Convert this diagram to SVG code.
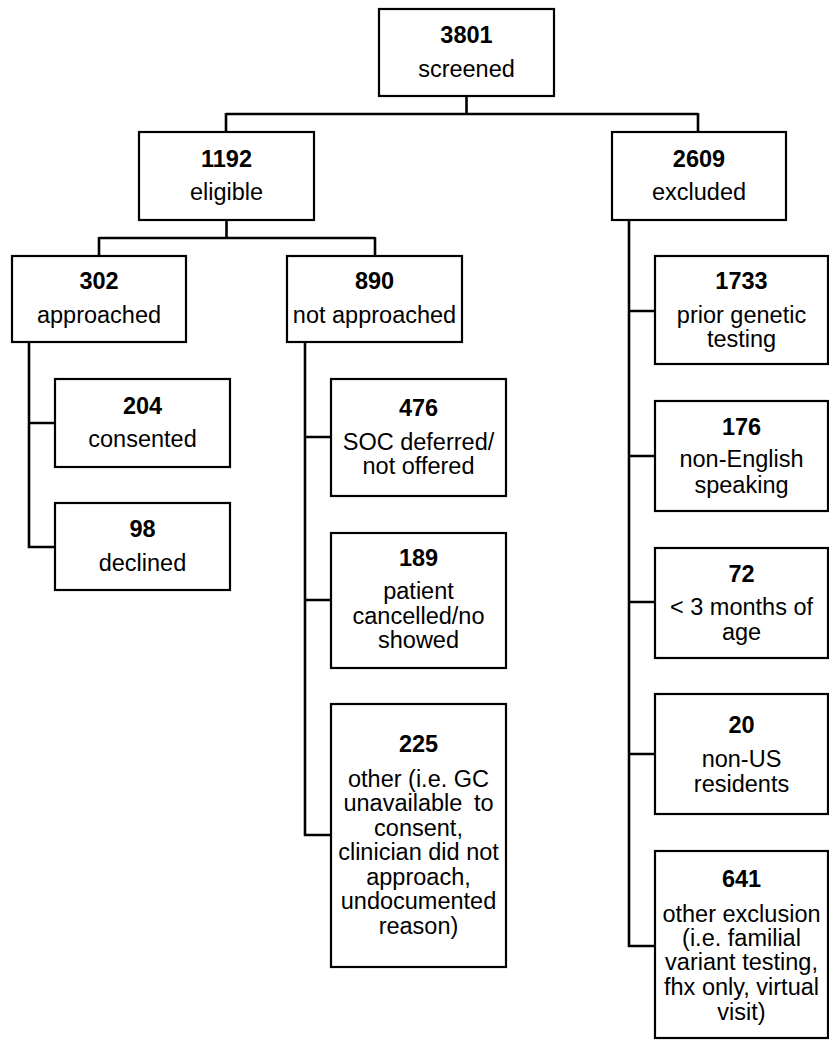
<svg xmlns="http://www.w3.org/2000/svg" width="829" height="1040" viewBox="0 0 829 1040">
<style>
.b{fill:#fff;stroke:#000;stroke-width:2.2}
#connectors path{fill:none;stroke:#000;stroke-width:2.6}
text{font-family:"Liberation Sans",Arial,sans-serif;font-size:23.5px;fill:#000;text-anchor:middle}
.n{font-weight:bold}
</style>
<rect width="829" height="1040" fill="#fff"/>
<g id="connectors">
<path d="M466.5 96V114M226 114H698M226 113V132M698 113V132"/>
<path d="M226.5 220V238M99 238H375M99 237V256M375 237V256"/>
<path d="M29 342V547H55M29 423H55"/>
<path d="M305 342V835H331M305 437H331M305 600H331"/>
<path d="M629 220V946H655M629 311H655M629 456H655M629 602H655M629 754H655"/>
</g>
<g id="n3801"><rect class="b" x="379" y="9" width="175" height="87"/><text x="466.5" y="43" class="n">3801</text><text x="466.5" y="77">screened</text></g>
<g id="n1192"><rect class="b" x="139" y="132" width="175" height="88"/><text x="226.5" y="167" class="n">1192</text><text x="226.5" y="200">eligible</text></g>
<g id="n2609"><rect class="b" x="612" y="132" width="174" height="88"/><text x="699" y="167" class="n">2609</text><text x="699" y="200">excluded</text></g>
<g id="n302"><rect class="b" x="12" y="256" width="174" height="86"/><text x="99" y="289" class="n">302</text><text x="99" y="323">approached</text></g>
<g id="n890"><rect class="b" x="287" y="256" width="175" height="86"/><text x="374.5" y="289" class="n">890</text><text x="374.5" y="323">not approached</text></g>
<g id="n204"><rect class="b" x="55" y="379" width="175" height="88"/><text x="142.5" y="414" class="n">204</text><text x="142.5" y="447">consented</text></g>
<g id="n98"><rect class="b" x="55" y="503" width="175" height="87"/><text x="142.5" y="537" class="n">98</text><text x="142.5" y="571">declined</text></g>
<g id="n476"><rect class="b" x="331" y="379" width="175" height="117"/><text x="418.5" y="416" class="n">476</text><text x="418.5" y="450">SOC deferred/</text><text x="418.5" y="474">not offered</text></g>
<g id="n189"><rect class="b" x="331" y="533" width="175" height="135"/><text x="418.5" y="566" class="n">189</text><text x="418.5" y="599">patient</text><text x="418.5" y="624">cancelled/no</text><text x="418.5" y="648">showed</text></g>
<g id="n225"><rect class="b" x="331" y="704" width="175" height="263"/><text x="418.5" y="752" class="n">225</text><text x="418.5" y="787">other (i.e. GC</text><text x="418.5" y="811" word-spacing="5">unavailable to</text><text x="418.5" y="836">consent,</text><text x="418.5" y="860">clinician did not</text><text x="418.5" y="885">approach,</text><text x="418.5" y="909">undocumented</text><text x="418.5" y="934">reason)</text></g>
<g id="n1733"><rect class="b" x="655" y="256" width="173" height="108"/><text x="741.5" y="289" class="n">1733</text><text x="741.5" y="323">prior genetic</text><text x="741.5" y="347">testing</text></g>
<g id="n176"><rect class="b" x="655" y="401" width="173" height="110"/><text x="741.5" y="435" class="n">176</text><text x="741.5" y="467">non-English</text><text x="741.5" y="493">speaking</text></g>
<g id="n72"><rect class="b" x="655" y="548" width="173" height="110"/><text x="741.5" y="582" class="n">72</text><text x="741.5" y="615">&lt; 3 months of</text><text x="741.5" y="640">age</text></g>
<g id="n20"><rect class="b" x="655" y="694" width="173" height="120"/><text x="741.5" y="733" class="n">20</text><text x="741.5" y="767">non-US</text><text x="741.5" y="792">residents</text></g>
<g id="n641"><rect class="b" x="655" y="851" width="173" height="187"/><text x="741.5" y="887" class="n">641</text><text x="741.5" y="922">other exclusion</text><text x="741.5" y="946">(i.e. familial</text><text x="741.5" y="970">variant testing,</text><text x="741.5" y="995">fhx only, virtual</text><text x="741.5" y="1020">visit)</text></g>
</svg>
